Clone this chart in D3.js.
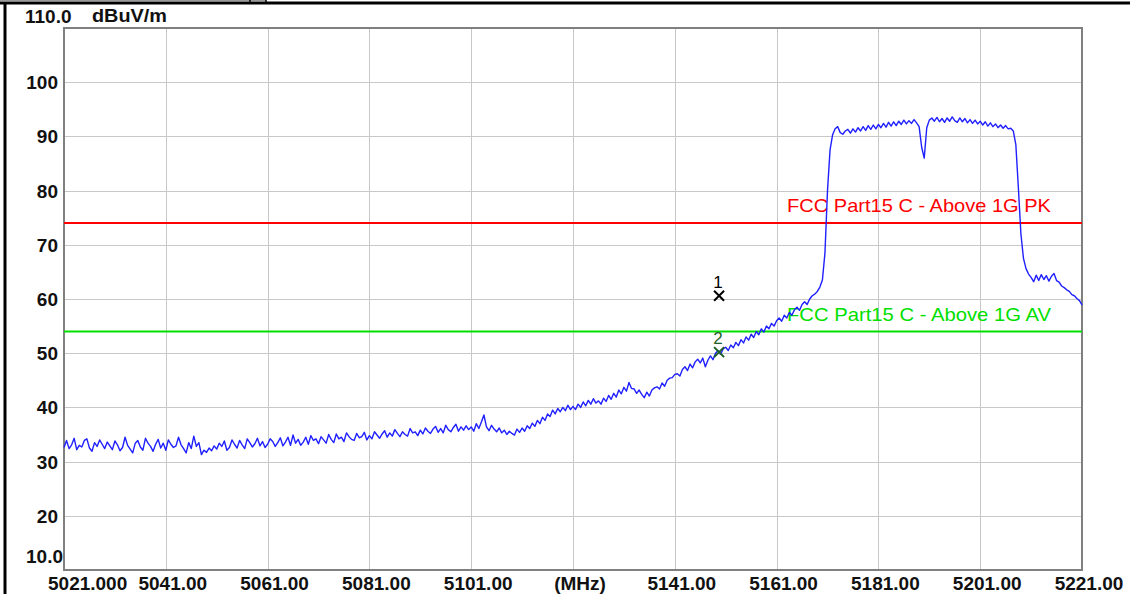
<!DOCTYPE html>
<html>
<head>
<meta charset="utf-8">
<title>FCC Part15 C - Above 1G</title>
<script src="https://cdn.jsdelivr.net/npm/d3@7"></script>
<style>
    body { margin: 0; background: #fff; }
    svg { display: block; }
    text { font-family: "Liberation Sans", Arial, sans-serif; }
</style>
</head>
<body>
<div id="chart"></div>
<script>
(function(d3) {

    "use strict";

    // sweep settings (MHz)
    var freqStart = 5021;
    var freqStop = 5221;
    var freqStep = 0.5;

    // trace level, dBuV/m, one value every 0.5 MHz from 5021 to 5221
    var traceLevels = [
        32.6, 33.9, 32.4, 33.1, 34.3, 32.2, 33.0, 32.7, 33.9, 34.2, 32.5, 31.9, 33.5, 32.8, 34.0, 33.2, 32.4, 33.6, 32.9, 32.2,
        33.8, 33.1, 32.0, 32.6, 34.5, 33.0, 32.3, 31.6, 33.4, 33.9, 32.7, 32.1, 34.3, 33.4, 32.8, 31.9, 33.2, 34.1, 32.5, 33.4,
        32.1, 34.0, 33.2, 32.6, 32.9, 34.5, 33.1, 32.4, 31.6, 33.5, 32.4, 34.7, 32.8, 33.5, 31.3, 32.1, 31.7, 32.5, 32.0, 32.9,
        32.3, 33.4, 32.8, 33.8, 32.1, 32.6, 34.0, 33.2, 32.5, 33.9, 33.1, 32.4, 34.2, 33.5, 32.7, 33.3, 34.3, 32.9, 33.7, 32.6,
        33.2, 34.2, 33.7, 32.8, 33.5, 34.4, 32.9, 33.6, 34.5, 33.0, 34.9, 33.4, 34.1, 33.0, 33.6, 34.5, 33.2, 34.8, 33.9, 34.2,
        33.3, 34.6, 34.0, 33.4, 35.0, 34.1, 33.5, 35.1, 34.2, 34.5, 33.7, 35.3, 34.6, 34.1, 33.9, 35.2, 34.4, 34.6, 35.4, 34.0,
        34.8, 34.2, 35.5, 34.9, 34.3, 35.1, 35.7, 34.5, 35.3, 34.7, 35.9, 35.2, 34.6, 35.5, 35.0, 34.7, 36.1, 35.3, 35.5, 34.8,
        35.8, 35.1, 36.2, 35.6, 35.2, 36.0, 36.5, 35.4, 36.1, 35.3, 36.7, 35.9, 35.5, 36.3, 36.9, 35.6, 36.4, 35.8, 36.6, 35.9,
        36.4, 35.6, 37.0, 36.1, 37.3, 38.6, 36.4, 35.7, 36.7, 36.0, 35.5, 36.2, 35.3, 35.8, 35.0, 35.6, 35.2, 34.9, 36.0, 35.4,
        36.2, 35.6, 36.6, 36.1, 37.1, 36.5, 37.6, 37.0, 38.2, 37.6, 38.8, 38.3, 39.5, 38.8, 39.8, 39.2, 40.0, 39.4, 40.4, 39.6,
        40.2, 39.6, 40.6, 40.0, 41.0, 40.3, 41.3, 40.6, 41.6, 40.8, 41.2, 40.6, 41.7, 41.1, 42.2, 41.5, 42.6, 41.9, 43.2, 42.5,
        43.7, 43.0, 44.6, 43.5, 43.4, 42.6, 43.2, 42.4, 41.8, 42.8, 42.1, 43.2, 43.6, 43.8, 43.4, 44.5, 43.9, 45.0, 45.4, 45.5,
        46.1, 46.2, 45.8, 47.0, 47.5, 46.8, 48.0, 47.3, 48.4, 48.9, 48.2, 49.1, 47.5, 48.7, 49.5, 48.8, 50.0, 50.5, 49.8, 50.8,
        51.1, 50.5, 51.5, 51.0, 52.0, 51.4, 52.5, 51.9, 53.0, 52.4, 53.5, 52.9, 54.0, 53.4, 54.5, 53.9, 55.0, 54.5, 55.5, 55.0,
        56.0, 56.5, 55.9, 57.0, 56.5, 57.5, 57.0, 58.0, 58.5, 57.9, 59.0, 59.5, 59.0, 60.0, 60.6, 60.9, 61.4, 62.2, 63.5, 68.5,
        80.0, 87.5, 90.3, 91.4, 91.8, 90.7, 90.4, 91.0, 91.3, 90.6, 91.4, 90.8, 91.6, 91.0, 91.8, 91.1, 92.0, 91.3, 92.1, 91.4,
        92.2, 91.6, 92.4, 91.7, 92.6, 91.9, 92.7, 92.0, 92.8, 92.2, 93.0, 92.3, 92.9, 92.4, 93.1, 92.5, 91.8, 88.0, 86.0, 91.6,
        93.0, 93.4, 92.8, 93.5, 92.7, 93.3, 92.6, 93.4, 92.8, 93.6, 92.9, 92.6, 93.4, 92.7, 93.3, 92.5, 93.1, 92.4, 93.0, 92.3,
        92.8, 92.1, 92.7, 91.9, 92.5, 91.8, 92.3, 91.6, 92.1, 91.5, 92.0, 91.4, 91.5, 91.0, 88.5, 80.5, 72.0, 67.5, 65.6, 64.6,
        64.0, 63.2, 64.4, 63.4, 64.5, 63.6, 64.3, 63.3, 64.2, 64.7, 63.4, 63.1, 62.4, 62.1, 61.7, 61.4, 60.8, 60.6, 60.1, 59.7,
        58.9
    ];

    // limit lines
    var limitNames = ["FCC Part15 C - Above 1G PK", "FCC Part15 C - Above 1G AV"];
    var limitLevels = [74, 54];
    var limitColors = ["#ff0000", "#00e000"];

    // markers
    var markerNames = ["1", "2"];
    var markerFreqs = [5149.7, 5149.7];
    var markerLevels = [60.6, 50.2];
    var markerColors = ["#000000", "#1f5f2a"];

    // axes
    var yTicks = [20, 30, 40, 50, 60, 70, 80, 90, 100];
    var xTicks = [5021, 5041, 5061, 5081, 5101, 5121, 5141, 5161, 5181, 5201, 5221];
    var xTickLabels = ["5021.000", "5041.00", "5061.00", "5081.00", "5101.00", "(MHz)",
        "5141.00", "5161.00", "5181.00", "5201.00", "5221.00"];
    var yUnit = "dBuV/m";

    /**
     * Spectrum plot
     * @param {String} element container selector
     * @constructor
     */
    function Spectrum(element) {
        this.element = element;
        this.width = 1134;
        this.height = 594;
        this.plot = { left: 64, right: 1082, top: 28, bottom: 570 };
        this.svg = null;
        this.x = null;
        this.y = null;
    }

    Spectrum.prototype.init = function() {
        this.svg = d3.select(this.element)
            .append("svg")
            .attr("width", this.width)
            .attr("height", this.height);

        this.x = d3.scaleLinear()
            .domain([freqStart, freqStop])
            .range([this.plot.left, this.plot.right]);

        this.y = d3.scaleLinear()
            .domain([10, 110])
            .range([this.plot.bottom, this.plot.top]);

        this.drawFrame();
        this.drawGrid();
        this.drawLabels();
        this.drawLimits();
        this.drawTrace();
        this.drawMarkers();
    };

    /**
     * Page frame around the plot (table cell borders)
     */
    Spectrum.prototype.drawFrame = function() {
        var g = this.svg.append("g").attr("class", "frame");
        g.append("line")
            .attr("x1", 0).attr("x2", 1130)
            .attr("y1", 3).attr("y2", 3)
            .attr("stroke", "#000").attr("stroke-width", 3);
        g.append("line")
            .attr("x1", 5).attr("x2", 5)
            .attr("y1", 2).attr("y2", this.height)
            .attr("stroke", "#000").attr("stroke-width", 3);
        g.append("line")
            .attr("x1", 0).attr("x2", 266)
            .attr("y1", 0.5).attr("y2", 0.5)
            .attr("stroke", "#999").attr("stroke-width", 1);
        [250, 266].forEach(function(px) {
            g.append("line")
                .attr("x1", px).attr("x2", px)
                .attr("y1", 0).attr("y2", 3)
                .attr("stroke", "#000").attr("stroke-width", 1.5);
        });
    };

    Spectrum.prototype.drawGrid = function() {
        var self = this;
        var g = this.svg.append("g").attr("class", "grid");

        g.selectAll(".vgrid")
            .data(xTicks.slice(1, -1))
            .enter()
            .append("line")
            .attr("class", "vgrid")
            .attr("x1", function(d) { return Math.round(self.x(d)) + 0.5; })
            .attr("x2", function(d) { return Math.round(self.x(d)) + 0.5; })
            .attr("y1", this.plot.top)
            .attr("y2", this.plot.bottom)
            .attr("stroke", "#c8c8c8")
            .attr("stroke-width", 1);

        g.selectAll(".hgrid")
            .data(yTicks)
            .enter()
            .append("line")
            .attr("class", "hgrid")
            .attr("x1", this.plot.left)
            .attr("x2", this.plot.right)
            .attr("y1", function(d) { return Math.round(self.y(d)) + 0.5; })
            .attr("y2", function(d) { return Math.round(self.y(d)) + 0.5; })
            .attr("stroke", "#c8c8c8")
            .attr("stroke-width", 1);

        g.append("rect")
            .attr("x", this.plot.left)
            .attr("y", this.plot.top)
            .attr("width", this.plot.right - this.plot.left)
            .attr("height", this.plot.bottom - this.plot.top)
            .attr("fill", "none")
            .attr("stroke", "#808080")
            .attr("stroke-width", 2);
    };

    Spectrum.prototype.drawLabels = function() {
        var self = this;
        var g = this.svg.append("g")
            .attr("class", "labels")
            .attr("fill", "#111")
            .attr("font-size", 19)
            .attr("font-weight", "bold");

        g.selectAll(".ylabel")
            .data(yTicks)
            .enter()
            .append("text")
            .attr("class", "ylabel")
            .attr("x", 58)
            .attr("y", function(d) { return self.y(d) + 7; })
            .attr("text-anchor", "end")
            .text(function(d) { return d; });

        g.append("text")
            .attr("x", 25)
            .attr("y", 23)
            .text(this.y.domain()[1].toFixed(1));

        g.append("text")
            .attr("x", 63)
            .attr("y", 563)
            .attr("text-anchor", "end")
            .text(this.y.domain()[0].toFixed(1));

        g.append("text")
            .attr("x", 92)
            .attr("y", 22)
            .attr("font-size", 18)
            .attr("textLength", 75)
            .attr("lengthAdjust", "spacingAndGlyphs")
            .text(yUnit);

        g.selectAll(".xlabel")
            .data(xTicks)
            .enter()
            .append("text")
            .attr("class", "xlabel")
            .attr("x", function(d, i) { return i === 0 ? self.x(d) - 16 : self.x(d) + 7; })
            .attr("y", 590)
            .attr("text-anchor", function(d, i) { return i === 0 ? "start" : "middle"; })
            .text(function(d, i) { return xTickLabels[i]; });
    };

    Spectrum.prototype.drawLimits = function() {
        var self = this;
        var g = this.svg.append("g").attr("class", "limits");

        g.selectAll(".limit")
            .data(limitLevels)
            .enter()
            .append("line")
            .attr("class", "limit")
            .attr("x1", this.plot.left)
            .attr("x2", this.plot.right)
            .attr("y1", function(d) { return self.y(d); })
            .attr("y2", function(d) { return self.y(d); })
            .attr("stroke", function(d, i) { return limitColors[i]; })
            .attr("stroke-width", 2);

        g.selectAll(".limit-label")
            .data(limitLevels)
            .enter()
            .append("text")
            .attr("class", "limit-label")
            .attr("x", 787)
            .attr("y", function(d) { return self.y(d) - 11; })
            .attr("font-size", 18.5)
            .attr("textLength", 264)
            .attr("lengthAdjust", "spacingAndGlyphs")
            .attr("fill", function(d, i) { return limitColors[i]; })
            .text(function(d, i) { return limitNames[i]; });
    };

    Spectrum.prototype.drawTrace = function() {
        var self = this;
        var line = d3.line()
            .x(function(d, i) { return self.x(freqStart + i * freqStep); })
            .y(function(d) { return self.y(d); });

        this.svg.append("path")
            .datum(traceLevels)
            .attr("class", "trace")
            .attr("fill", "none")
            .attr("stroke", "#2020ff")
            .attr("stroke-width", 1.4)
            .attr("stroke-linejoin", "round")
            .attr("d", line);
    };

    Spectrum.prototype.drawMarkers = function() {
        var self = this;
        var g = this.svg.append("g").attr("class", "markers");

        var m = g.selectAll(".marker")
            .data(markerLevels)
            .enter()
            .append("g")
            .attr("class", "marker")
            .attr("transform", function(d, i) {
                return "translate(" + self.x(markerFreqs[i]) + "," + self.y(d) + ")";
            });

        // cross drawn as two strokes
        m.append("path")
            .attr("d", "M-5,-5L5,5M-5,5L5,-5")
            .attr("fill", "none")
            .attr("stroke", function(d, i) { return markerColors[i]; })
            .attr("stroke-width", 2);

        m.append("text")
            .attr("x", -1)
            .attr("y", -8)
            .attr("text-anchor", "middle")
            .attr("font-size", 17)
            .attr("fill", function(d, i) { return markerColors[i]; })
            .text(function(d, i) { return markerNames[i]; });
    };

    var chart = new Spectrum("#chart");
    chart.init();

})(d3);
</script>
</body>
</html>
